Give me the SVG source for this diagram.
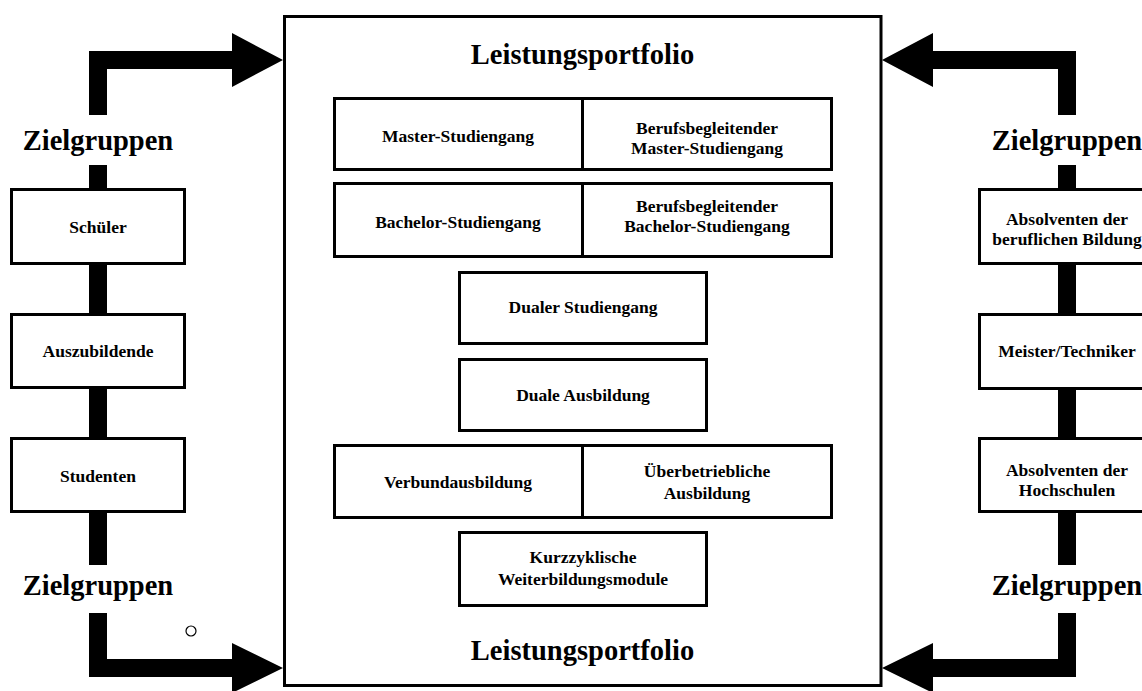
<svg xmlns="http://www.w3.org/2000/svg" width="1142" height="691" viewBox="0 0 1142 691">
  <style>
    .box { fill: #fff; stroke: #000; stroke-width: 3; }
    .div { stroke: #000; stroke-width: 3; }
    .bar { fill: #000; }
    text { font-family: "Liberation Serif", "Times New Roman", serif; font-weight: bold; fill: #000; text-anchor: middle; }
    .t { font-size: 17.5px; }
    .big { font-size: 28.5px; }
  </style>
  <rect width="1142" height="691" fill="#fff"/>

  <!-- connectors: thick bars and block arrows -->
  <g id="connectors">
    <!-- left side -->
    <polygon class="bar" points="89,115 89,51 232,51 232,33 283,60 232,87 232,69 107,69 107,115"/>
    <rect class="bar" x="89" y="165" width="18" height="24"/>
    <rect class="bar" x="89" y="264" width="18" height="50"/>
    <rect class="bar" x="89" y="388" width="18" height="50"/>
    <rect class="bar" x="89" y="512" width="18" height="53"/>
    <polygon class="bar" points="89,613 89,677 232,677 232,693 283,668 232,643 232,659 107,659 107,613"/>
    <!-- right side -->
    <polygon class="bar" points="1076,115 1076,51 933,51 933,33 882,60 933,87 933,69 1058,69 1058,115"/>
    <rect class="bar" x="1058" y="165" width="18" height="24"/>
    <rect class="bar" x="1058" y="264" width="18" height="50"/>
    <rect class="bar" x="1058" y="388" width="18" height="50"/>
    <rect class="bar" x="1058" y="512" width="18" height="53"/>
    <polygon class="bar" points="1076,613 1076,677 933,677 933,693 882,668 933,643 933,659 1058,659 1058,613"/>
  </g>

  <!-- central portfolio frame -->
  <g id="portfolio">
    <rect class="box" x="284.5" y="16.5" width="596.5" height="669"/>
    <text class="big" x="582.5" y="64">Leistungsportfolio</text>
    <text class="big" x="582.5" y="660">Leistungsportfolio</text>
  </g>

  <g id="master">
    <rect class="box" x="334.5" y="98.5" width="497" height="71"/>
    <line class="div" x1="582.5" y1="98.5" x2="582.5" y2="169.5"/>
    <text class="t" x="458" y="142">Master-Studiengang</text>
    <text class="t" x="707" y="134">Berufsbegleitender</text>
    <text class="t" x="707" y="154">Master-Studiengang</text>
  </g>

  <g id="bachelor">
    <rect class="box" x="334.5" y="183.5" width="497" height="73"/>
    <line class="div" x1="582.5" y1="183.5" x2="582.5" y2="256.5"/>
    <text class="t" x="458" y="228">Bachelor-Studiengang</text>
    <text class="t" x="707" y="212">Berufsbegleitender</text>
    <text class="t" x="707" y="232">Bachelor-Studiengang</text>
  </g>

  <g id="dual-study">
    <rect class="box" x="459.5" y="272.5" width="247" height="71"/>
    <text class="t" x="583" y="313">Dualer Studiengang</text>
  </g>

  <g id="dual-training">
    <rect class="box" x="459.5" y="359.5" width="247" height="71"/>
    <text class="t" x="583" y="401">Duale Ausbildung</text>
  </g>

  <g id="joint-training">
    <rect class="box" x="334.5" y="445.5" width="497" height="72"/>
    <line class="div" x1="582.5" y1="445.5" x2="582.5" y2="517.5"/>
    <text class="t" x="458" y="488">Verbundausbildung</text>
    <text class="t" x="707" y="477">Überbetriebliche</text>
    <text class="t" x="707" y="499">Ausbildung</text>
  </g>

  <g id="modules">
    <rect class="box" x="459.5" y="532.5" width="247" height="73"/>
    <text class="t" x="583" y="563">Kurzzyklische</text>
    <text class="t" x="583" y="585">Weiterbildungsmodule</text>
  </g>

  <!-- left target groups -->
  <g id="left-label-top"><text class="big" x="98" y="150">Zielgruppen</text></g>
  <g id="schueler">
    <rect class="box" x="11.5" y="189.5" width="173" height="74"/>
    <text class="t" x="98" y="233">Schüler</text>
  </g>
  <g id="auszubildende">
    <rect class="box" x="11.5" y="314.5" width="173" height="73"/>
    <text class="t" x="98" y="357">Auszubildende</text>
  </g>
  <g id="studenten">
    <rect class="box" x="11.5" y="438.5" width="173" height="73"/>
    <text class="t" x="98" y="482">Studenten</text>
  </g>
  <g id="left-label-bottom"><text class="big" x="98" y="595">Zielgruppen</text></g>
  <circle cx="191" cy="631" r="5" fill="#fff" stroke="#000" stroke-width="1.2"/>

  <!-- right target groups -->
  <g id="right-label-top"><text class="big" x="1067" y="150">Zielgruppen</text></g>
  <g id="absolventen-beruf">
    <rect class="box" x="979.5" y="189.5" width="173" height="74"/>
    <text class="t" x="1067" y="225">Absolventen der</text>
    <text class="t" x="1067" y="245">beruflichen Bildung</text>
  </g>
  <g id="meister">
    <rect class="box" x="979.5" y="314.5" width="173" height="74"/>
    <text class="t" x="1067" y="357">Meister/Techniker</text>
  </g>
  <g id="absolventen-hochschule">
    <rect class="box" x="979.5" y="438.5" width="173" height="73"/>
    <text class="t" x="1067" y="476">Absolventen der</text>
    <text class="t" x="1067" y="496">Hochschulen</text>
  </g>
  <g id="right-label-bottom"><text class="big" x="1067" y="595">Zielgruppen</text></g>
</svg>
